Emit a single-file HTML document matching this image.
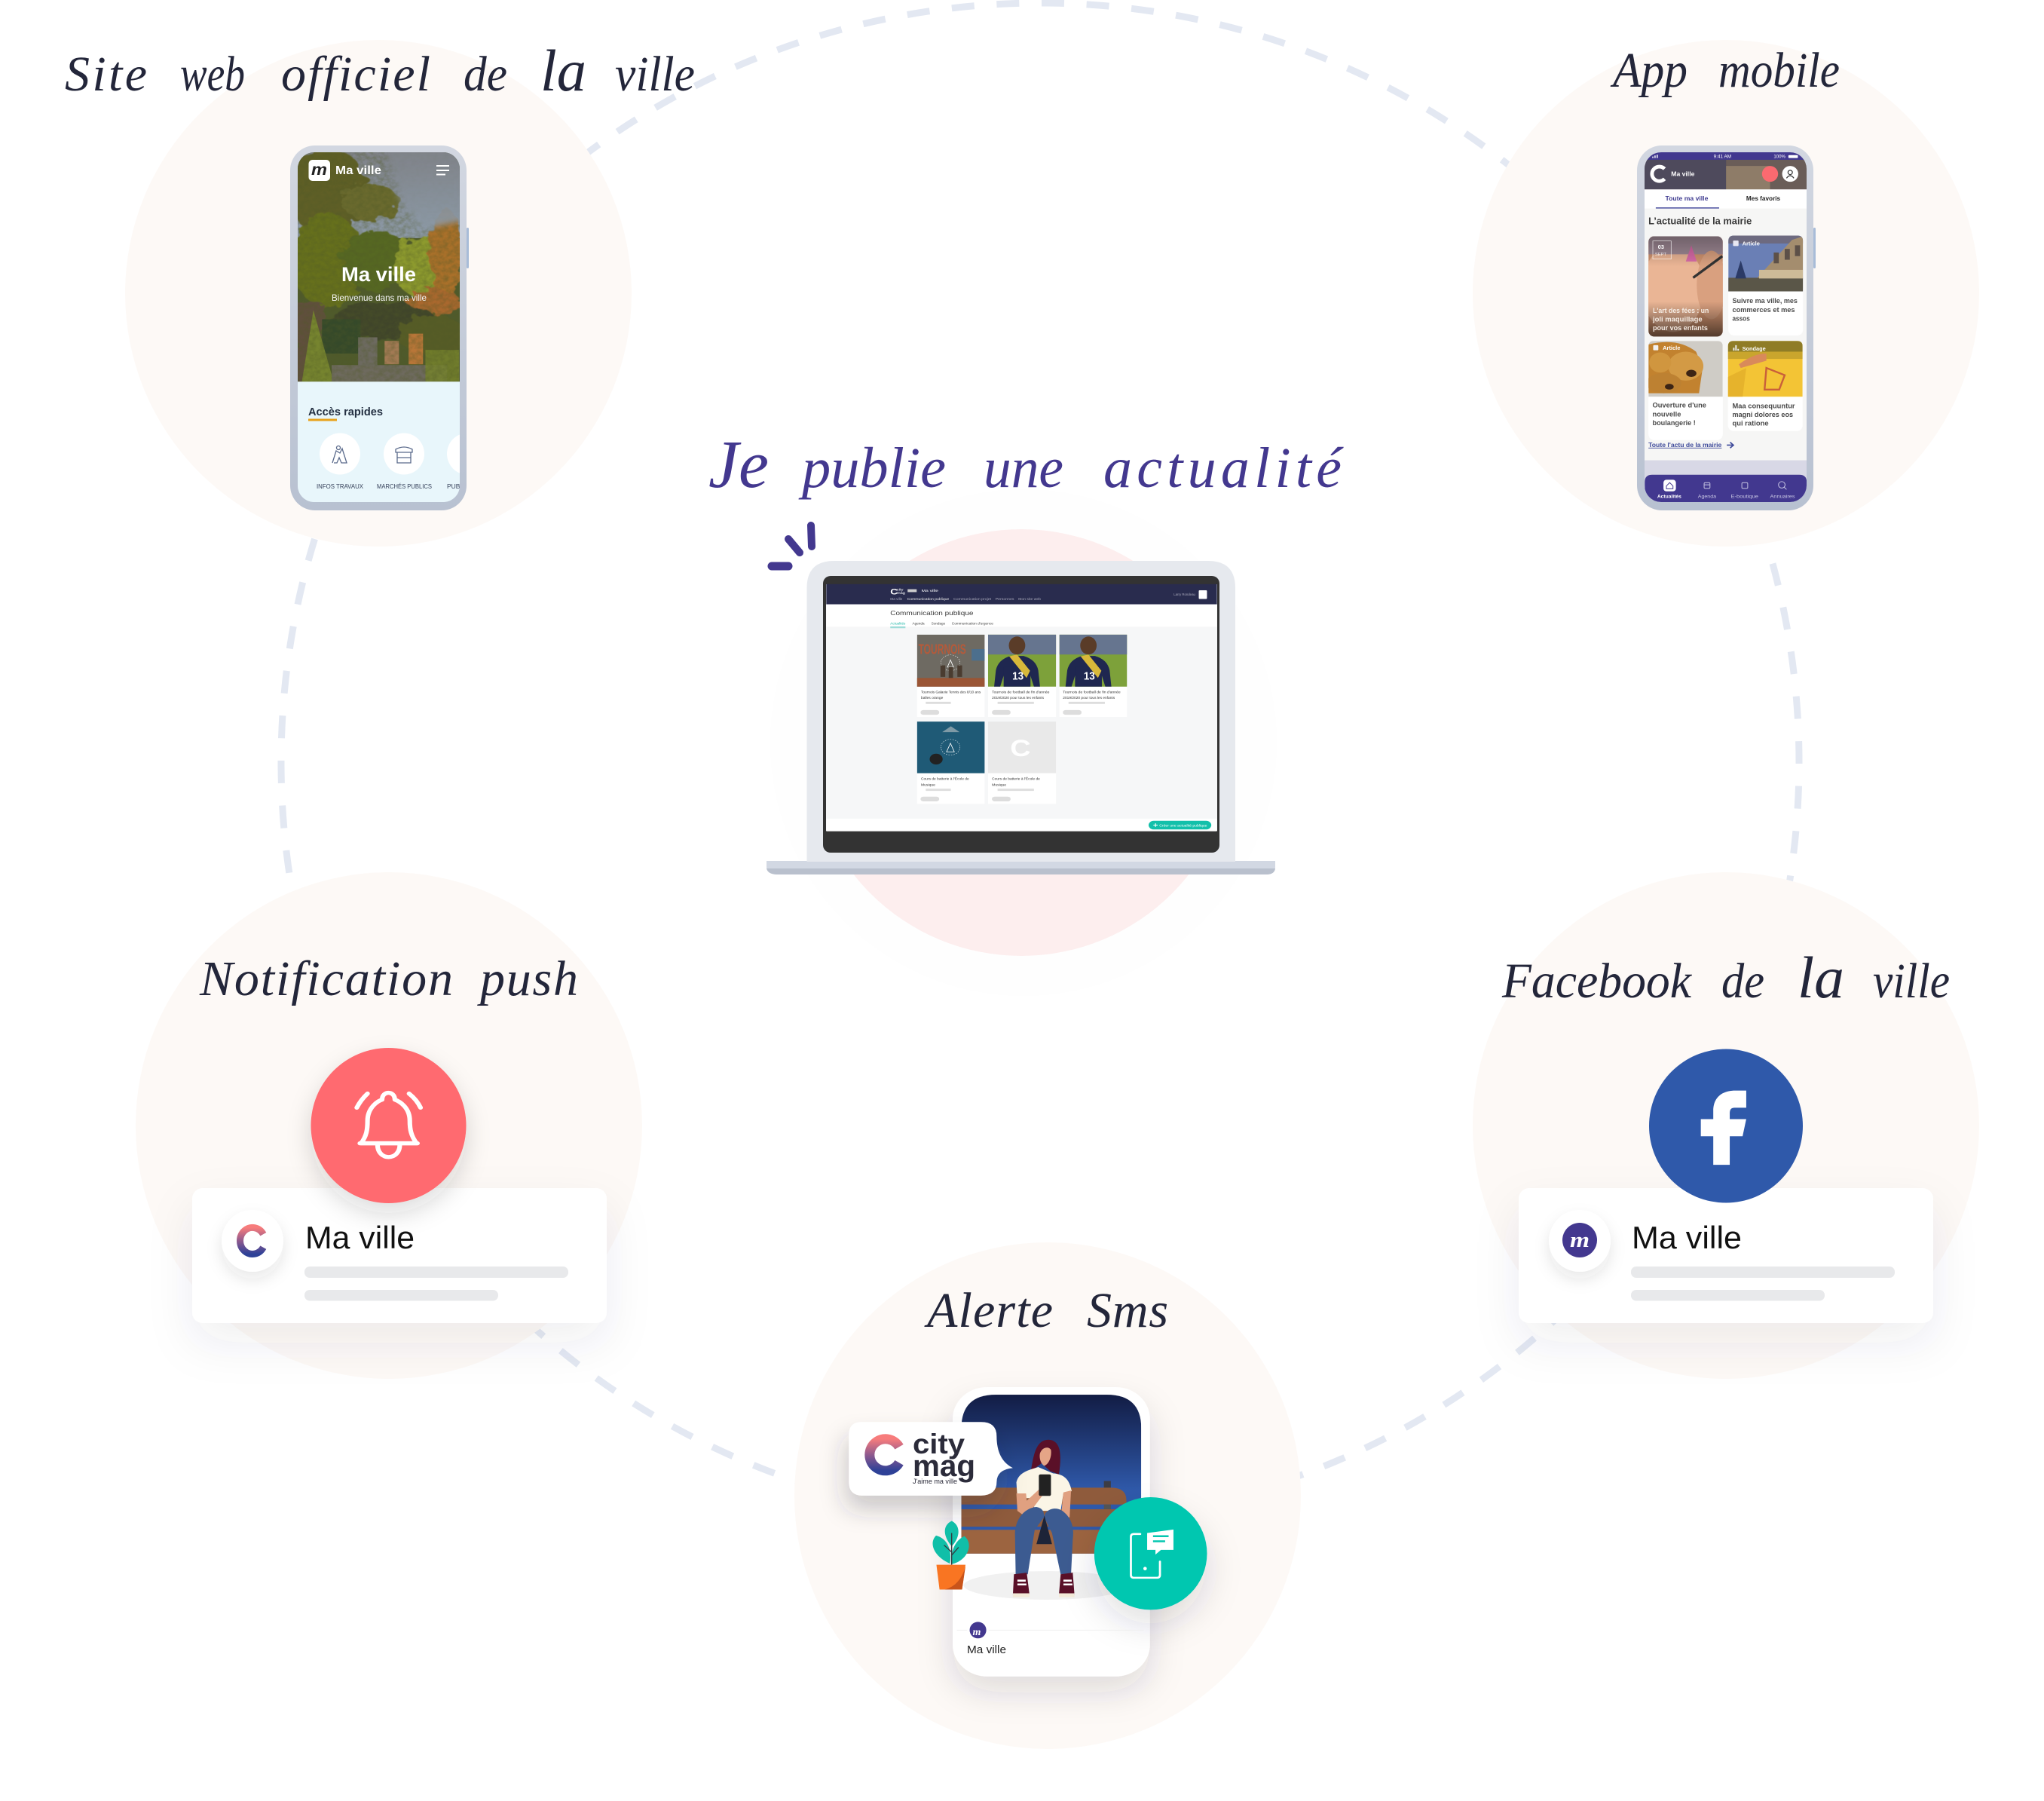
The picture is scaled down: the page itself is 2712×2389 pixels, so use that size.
<!DOCTYPE html>
<html lang="fr"><head><meta charset="utf-8"><title>Je publie une actualité</title>
<style>
html,body{margin:0;padding:0;background:#fff}
svg{display:block}
.h{font-family:"Liberation Serif",serif;font-style:italic;font-size:66px;fill:#23263a}
.p{fill:#43388f;font-size:76px}
.s{font-family:"Liberation Sans",sans-serif}
</style></head><body>
<svg xmlns="http://www.w3.org/2000/svg" width="2712" height="2389" viewBox="0 0 2712 2389">
<defs>
<filter id="sh" x="-30%" y="-40%" width="160%" height="190%"><feDropShadow dx="0" dy="26" stdDeviation="30" flood-color="#303050" flood-opacity=".08"/></filter>
<filter id="sh2" x="-40%" y="-40%" width="180%" height="180%"><feDropShadow dx="0" dy="14" stdDeviation="16" flood-color="#202030" flood-opacity=".16"/></filter>
<filter id="sh3" x="-40%" y="-40%" width="180%" height="190%"><feDropShadow dx="0" dy="10" stdDeviation="10" flood-color="#303040" flood-opacity=".11"/></filter>
<filter id="sh4" x="-40%" y="-40%" width="180%" height="190%"><feDropShadow dx="0" dy="50" stdDeviation="50" flood-color="#303040" flood-opacity=".14"/></filter>
<filter id="sh5" x="-40%" y="-40%" width="180%" height="220%"><feDropShadow dx="-10" dy="45" stdDeviation="36" flood-color="#303040" flood-opacity=".24"/></filter>
<filter id="leaf" x="-10%" y="-10%" width="120%" height="120%"><feTurbulence type="fractalNoise" baseFrequency=".035" numOctaves="3" seed="4"/><feDisplacementMap in="SourceGraphic" scale="38"/><feGaussianBlur stdDeviation="1"/></filter>
<filter id="noise" x="0" y="0" width="100%" height="100%"><feTurbulence type="fractalNoise" baseFrequency=".09" numOctaves="3" seed="9"/><feColorMatrix values="0 0 0 0 .08 0 0 0 0 .1 0 0 0 0 .02 1.8 0 0 0 -.55"/></filter>
<filter id="soft"><feGaussianBlur stdDeviation="8"/></filter>
<linearGradient id="cg" gradientUnits="objectBoundingBox" x1="0" y1="0" x2="0" y2="1"><stop offset="0" stop-color="#f77c7c"/><stop offset=".5" stop-color="#8f5a8e"/><stop offset="1" stop-color="#2e4197"/></linearGradient>
<linearGradient id="sky" x1="0" y1="0" x2="0" y2="1"><stop offset="0" stop-color="#121c44"/><stop offset=".6" stop-color="#2f59aa"/><stop offset="1" stop-color="#2f59aa"/></linearGradient>
<linearGradient id="fr" x1="0" y1="0" x2="0" y2="1"><stop offset="0" stop-color="#d2d7e1"/><stop offset="1" stop-color="#b8c1d1"/></linearGradient>
<linearGradient id="sk1" x1="0" y1="0" x2="0" y2="1"><stop offset="0" stop-color="#7f8288"/><stop offset="1" stop-color="#8c99a6"/></linearGradient>
<linearGradient id="dk" x1="0" y1="0" x2="0" y2="1"><stop offset="0" stop-color="#000" stop-opacity=".3"/><stop offset=".3" stop-color="#000" stop-opacity="0"/><stop offset=".65" stop-color="#000" stop-opacity="0"/><stop offset="1" stop-color="#000" stop-opacity=".6"/></linearGradient>
<clipPath id="s1"><rect x="395" y="202" width="215" height="464" rx="22"/></clipPath>
<clipPath id="s2"><rect x="2182" y="202" width="215" height="464" rx="22"/></clipPath>
<clipPath id="imA"><rect x="488" y="655" width="203" height="278" rx="16"/></clipPath>
<clipPath id="imB"><path d="M706 808V669q0-16 16-16h172q16 0 16 16v139z"/></clipPath>
<clipPath id="imC"><path d="M488 1100V961q0-16 16-16h171q16 0 16 16v139z"/></clipPath>
<clipPath id="imD"><path d="M705 1100V961q0-16 16-16h172q16 0 16 16v139z"/></clipPath>
<clipPath id="smsimg"><path d="M513 905V510q0-106 100-106h320q100 0 100 106v395z"/></clipPath>
</defs>
<rect width="2712" height="2389" fill="#fff"/>

<!-- faint centre disc and dashed ring -->
<circle cx="1358" cy="985" r="336" fill="#fefefe"/>
<circle cx="1380" cy="1011" r="1007" fill="none" stroke="#e3e8f2" stroke-width="9" stroke-dasharray="30 29.69" stroke-dashoffset="28"/>

<!-- background discs -->
<circle cx="502" cy="389" r="336" fill="#fdf9f6"/>
<circle cx="2290" cy="389" r="336" fill="#fdf9f6"/>
<circle cx="516" cy="1493" r="336" fill="#fdf9f6"/>
<circle cx="2290" cy="1493" r="336" fill="#fdf9f6"/>
<circle cx="1390" cy="1984" r="336" fill="#fdf9f6"/>
<circle cx="1355" cy="985" r="283" fill="#fdeeee"/>

<!-- titles -->
<text class="h" x="86" y="120" textLength="109" lengthAdjust="spacing">Site</text>
<text class="h" x="239" y="120" textLength="86" lengthAdjust="spacingAndGlyphs">web</text>
<text class="h" x="373" y="120" textLength="198" lengthAdjust="spacing">officiel</text>
<text class="h" x="615" y="120" textLength="58" lengthAdjust="spacingAndGlyphs">de</text>
<text class="h" x="717" y="120" font-size="78" style="font-size:78px" textLength="61" lengthAdjust="spacingAndGlyphs">la</text>
<text class="h" x="816" y="120" textLength="106" lengthAdjust="spacingAndGlyphs">ville</text>
<text class="h" x="2140" y="115" textLength="99" lengthAdjust="spacingAndGlyphs">App</text>
<text class="h" x="2280" y="115" textLength="161" lengthAdjust="spacingAndGlyphs">mobile</text>
<text class="h p" x="940" y="646" style="font-size:90px" textLength="80" lengthAdjust="spacingAndGlyphs">Je</text>
<text class="h p" x="1064" y="646" textLength="191" lengthAdjust="spacingAndGlyphs">publie</text>
<text class="h p" x="1305" y="646" textLength="106" lengthAdjust="spacingAndGlyphs">une</text>
<text class="h p" x="1464" y="646" textLength="316" lengthAdjust="spacing">actualité</text>
<text class="h" x="265" y="1320" textLength="336" lengthAdjust="spacing">Notification</text>
<text class="h" x="637" y="1320" textLength="130" lengthAdjust="spacing">push</text>
<text class="h" x="1993" y="1323" textLength="251" lengthAdjust="spacingAndGlyphs">Facebook</text>
<text class="h" x="2284" y="1323" textLength="57" lengthAdjust="spacingAndGlyphs">de</text>
<text class="h" x="2385" y="1323" style="font-size:78px" textLength="62" lengthAdjust="spacingAndGlyphs">la</text>
<text class="h" x="2485" y="1323" textLength="102" lengthAdjust="spacingAndGlyphs">ville</text>
<text class="h" x="1230" y="1760" textLength="167" lengthAdjust="spacing">Alerte</text>
<text class="h" x="1442" y="1760" textLength="108" lengthAdjust="spacing">Sms</text>

<!-- LEFT PHONE -->
<rect x="619" y="302" width="3" height="54" rx="1.5" fill="#a8bcd8"/>
<rect x="385" y="193" width="234" height="484" rx="33" fill="url(#fr)"/>
<rect x="395" y="202" width="215" height="464" rx="22" fill="#e8f6fb"/>
<g clip-path="url(#s1)">
<g transform="scale(.6378 .4785)">
<rect x="610" y="420" width="360" height="640" fill="#4f5a2c"/>
<rect x="610" y="420" width="360" height="240" fill="url(#sk1)"/>
<g filter="url(#leaf)">
<ellipse cx="680" cy="530" rx="85" ry="120" fill="#5f5f26"/>
<ellipse cx="770" cy="560" rx="60" ry="50" fill="#6a6a2e"/>
<ellipse cx="680" cy="720" rx="75" ry="130" fill="#66701f"/>
<ellipse cx="780" cy="720" rx="70" ry="85" fill="#566720"/>
<ellipse cx="880" cy="740" rx="62" ry="85" fill="#8d9a2e"/>
<ellipse cx="930" cy="700" rx="36" ry="120" fill="#a96f2b"/>
<ellipse cx="905" cy="840" rx="55" ry="40" fill="#a9682f"/>
<ellipse cx="800" cy="890" rx="110" ry="50" fill="#3f442a"/>
<ellipse cx="900" cy="930" rx="70" ry="55" fill="#565b26"/>
<rect x="610" y="840" width="60" height="220" fill="#60503c"/>
</g>
<rect x="670" y="885" width="80" height="95" fill="#35492a"/>
<path d="M652 860L628 1058H694Z" fill="#76842f"/>
<rect x="800" y="945" width="30" height="65" fill="#a27a54"/>
<rect x="850" y="925" width="30" height="85" fill="#b87638"/>
<rect x="690" y="1012" width="240" height="46" fill="#6e6a5e"/>
<rect x="745" y="935" width="40" height="80" fill="#6d6a60"/>
<rect x="885" y="970" width="70" height="88" fill="#76822d" opacity=".85"/>
<rect x="610" y="420" width="360" height="640" filter="url(#noise)" opacity=".4"/>
<path d="M800 410H970V610L880 635L835 560Z" fill="url(#sk1)" opacity=".9" filter="url(#soft)"/>
<rect x="610" y="1058" width="360" height="340" fill="#e8f6fb"/>
</g>
<rect x="409.5" y="212" width="28.5" height="28" rx="5" fill="#fff"/>
<text x="413" y="232" class="s" font-family="Liberation Serif" font-style="italic" font-weight="700" font-size="21" textLength="21" lengthAdjust="spacingAndGlyphs" fill="#222">m</text>
<text x="445" y="231" class="s" font-size="16" font-weight="700" fill="#fff" textLength="61" lengthAdjust="spacingAndGlyphs">Ma ville</text>
<path d="M579 220h17M579 226h17M579 231.500h12" stroke="#fff" stroke-width="2"/>
<text x="453" y="373" class="s" font-size="27" font-weight="700" fill="#fff" textLength="99" lengthAdjust="spacingAndGlyphs">Ma ville</text>
<text x="440" y="399" class="s" font-size="12" fill="#f4f4f4" textLength="126" lengthAdjust="spacingAndGlyphs">Bienvenue dans ma ville</text>
<text x="409" y="551" class="s" font-size="15" font-weight="700" fill="#243042" textLength="99" lengthAdjust="spacingAndGlyphs">Accès rapides</text>
<rect x="409" y="555.500" width="38" height="3" fill="#e8a21c"/>
<ellipse cx="451" cy="602" rx="27" ry="27.500" fill="#fff"/>
<ellipse cx="536" cy="602" rx="27" ry="27.500" fill="#fff"/>
<ellipse cx="620" cy="602" rx="27" ry="27.500" fill="#fff"/>
<g fill="none" stroke="#5b6b8c" stroke-width="1.300">
<path d="M441 614l5-16 5 3 3-6 6 19h-7l-3-7-3 7h-4"/><circle cx="449" cy="594" r="2.500"/>
<path d="M525 596q11-6 22 0v4h-22zM527 600v14h18v-14M527 607h18"/>
</g>
<text x="420" y="648" class="s" font-size="8.500" fill="#35405a" textLength="62" lengthAdjust="spacingAndGlyphs">INFOS TRAVAUX</text>
<text x="500" y="648" class="s" font-size="8.500" fill="#35405a" textLength="73" lengthAdjust="spacingAndGlyphs">MARCHÉS PUBLICS</text>
<text x="593" y="648" class="s" font-size="8.500" fill="#35405a">PUBLICATIONS</text>
</g>

<!-- APP PHONE -->
<rect x="2406" y="302" width="3" height="54" rx="1.5" fill="#a8bcd8"/>
<rect x="2172" y="193" width="234" height="484" rx="33" fill="url(#fr)"/>
<g clip-path="url(#s2)">
<g transform="translate(1950 0) scale(.486 .4785)" class="s">
<rect x="470" y="415" width="460" height="990" fill="#f6f6f5"/>
<rect x="470" y="415" width="460" height="30" fill="#42388f"/>
<rect x="470" y="443" width="460" height="84" fill="#6a5d58"/>
<rect x="470" y="443" width="230" height="84" fill="#4e4a5c"/>
<rect x="700" y="460" width="120" height="66" fill="#8e7c68"/>
<text x="666" y="438" font-size="13" fill="#fff" textLength="48" lengthAdjust="spacingAndGlyphs">9:41 AM</text>
<text x="830" y="438" font-size="13" fill="#fff" textLength="32" lengthAdjust="spacingAndGlyphs">100%</text>
<rect x="870" y="430" width="26" height="8" rx="2" fill="#fff"/>
<path d="M500 438v-4M506 438v-7M512 438v-9" stroke="#fff" stroke-width="3"/>
<path d="M532 468A20 20 0 1 0 532 496" fill="none" stroke="#fff" stroke-width="10"/>
<text x="550" y="488" font-size="17" font-weight="700" fill="#fff" textLength="64" lengthAdjust="spacingAndGlyphs">Ma ville</text>
<circle cx="820" cy="482" r="22" fill="#fa6a70"/>
<circle cx="875" cy="482" r="22" fill="#fff"/>
<circle cx="875" cy="478" r="6" fill="none" stroke="#333" stroke-width="2.500"/><path d="M865 494q10-14 20 0" fill="none" stroke="#333" stroke-width="2.500"/>
<rect x="470" y="525" width="460" height="53" fill="#fff"/>
<text x="534" y="556" font-size="17" font-weight="700" fill="#3e3a90" textLength="117" lengthAdjust="spacingAndGlyphs">Toute ma ville</text>
<text x="755" y="556" font-size="17" font-weight="700" fill="#222" textLength="93" lengthAdjust="spacingAndGlyphs">Mes favoris</text>
<rect x="508" y="575" width="173" height="3" fill="#42469a"/>
<text x="488" y="622" font-size="26" font-weight="700" fill="#3a3a3a" textLength="282" lengthAdjust="spacingAndGlyphs">L’actualité de la mairie</text>

<g clip-path="url(#imA)">
<rect x="488" y="655" width="203" height="278" fill="#d0936f"/>
<ellipse cx="555" cy="800" rx="85" ry="120" fill="#eab595"/>
<rect x="488" y="655" width="203" height="50" fill="#a08a96"/>
<ellipse cx="660" cy="790" rx="40" ry="95" fill="#d9a07f"/>
<path d="M590 725l15-45 15 45z" fill="#d96ba8"/>
<path d="M610 770l80-60" stroke="#333" stroke-width="7"/>
<rect x="488" y="655" width="203" height="278" fill="url(#dk)"/>
</g>
<rect x="500" y="668" width="50" height="50" fill="none" stroke="#fff" stroke-width="1.500" opacity=".8"/>
<text x="514" y="690" font-size="15" font-weight="700" fill="#fff">03</text>
<text x="506" y="708" font-size="12" fill="#fff" opacity=".8">SEPT</text>
<g font-size="19" font-weight="700" fill="#f5ece4">
<text x="500" y="867" textLength="153" lengthAdjust="spacingAndGlyphs">L'art des fées : un</text>
<text x="500" y="891" textLength="135" lengthAdjust="spacingAndGlyphs">joli maquillage</text>
<text x="500" y="915" textLength="150" lengthAdjust="spacingAndGlyphs">pour vos enfants</text>
</g>

<rect x="706" y="653" width="204" height="277" rx="16" fill="#fff"/>
<g clip-path="url(#imB)">
<rect x="706" y="653" width="204" height="155" fill="#6a7fb5"/>
<rect x="706" y="653" width="204" height="22" fill="#6d6a80"/>
<path d="M785 770L880 665L910 655V800H785Z" fill="#a48d6e"/>
<rect x="830" y="700" width="14" height="30" fill="#5d5048"/><rect x="860" y="690" width="14" height="30" fill="#5d5048"/><rect x="888" y="680" width="14" height="30" fill="#5d5048"/>
<rect x="706" y="770" width="204" height="38" fill="#5a5648"/>
<path d="M725 772l15-50 15 50z" fill="#2b3a66"/>
<rect x="790" y="748" width="120" height="24" fill="#cdbb98"/>
</g>
<text x="744" y="680" font-size="15" font-weight="700" fill="#fff" textLength="48" lengthAdjust="spacingAndGlyphs">Article</text>
<rect x="719" y="667" width="15" height="15" rx="2" fill="#e8e8f2"/>
<g font-size="19" font-weight="700" fill="#4a4a4a">
<text x="717" y="840" textLength="178" lengthAdjust="spacingAndGlyphs">Suivre ma ville, mes</text>
<text x="717" y="865" textLength="171" lengthAdjust="spacingAndGlyphs">commerces et mes</text>
<text x="717" y="889" textLength="48" lengthAdjust="spacingAndGlyphs">assos</text>
</g>

<rect x="488" y="945" width="203" height="275" rx="16" fill="#fff"/>
<g clip-path="url(#imC)">
<rect x="488" y="945" width="203" height="155" fill="#cfccc6"/>
<path d="M488 955q80-20 130 20l18 45-10 70H488z" fill="#c2822f"/>
<ellipse cx="590" cy="1015" rx="48" ry="40" fill="#d39a45"/>
<ellipse cx="530" cy="1062" rx="48" ry="28" fill="#bd8132"/>
<ellipse cx="520" cy="1005" rx="30" ry="28" fill="#d0963f"/>
<ellipse cx="605" cy="1035" rx="14" ry="10" fill="#3c2415"/>
<ellipse cx="545" cy="1072" rx="12" ry="8" fill="#3c2415"/>
</g>
<rect x="501" y="957" width="14" height="14" rx="2" fill="#f2f2f2"/>
<text x="527" y="970" font-size="15" font-weight="700" fill="#fff" textLength="48" lengthAdjust="spacingAndGlyphs">Article</text>
<g font-size="19" font-weight="700" fill="#4a4a4a">
<text x="499" y="1130" textLength="147" lengthAdjust="spacingAndGlyphs">Ouverture d'une</text>
<text x="499" y="1155" textLength="78" lengthAdjust="spacingAndGlyphs">nouvelle</text>
<text x="499" y="1179" textLength="118" lengthAdjust="spacingAndGlyphs">boulangerie !</text>
</g>

<rect x="705" y="945" width="204" height="250" rx="16" fill="#fff"/>
<g clip-path="url(#imD)">
<rect x="705" y="945" width="204" height="155" fill="#f3c435"/>
<rect x="705" y="945" width="204" height="30" fill="#8f7c26"/>
<rect x="705" y="975" width="204" height="20" fill="#c9a52d"/>
<path d="M735 1010q40-30 75-30l0 20-70 20z" fill="#d98a5a"/>
<path d="M705 1045l50-25-10 80h-40z" fill="#e6b32c"/>
<path d="M810 1020l50 20-15 40h-40z" fill="none" stroke="#c9603a" stroke-width="5"/>
</g>
<text x="744" y="972" font-size="15" font-weight="700" fill="#fff" textLength="64" lengthAdjust="spacingAndGlyphs">Sondage</text>
<path d="M721 972v-8M727 972v-15M733 972v-5" stroke="#eee" stroke-width="4"/>
<g font-size="19" font-weight="700" fill="#4a4a4a">
<text x="717" y="1132" textLength="171" lengthAdjust="spacingAndGlyphs">Maa consequuntur</text>
<text x="717" y="1156" textLength="166" lengthAdjust="spacingAndGlyphs">magni dolores eos</text>
<text x="717" y="1180" textLength="99" lengthAdjust="spacingAndGlyphs">qui ratione</text>
</g>

<text x="488" y="1239" font-size="18" font-weight="700" fill="#3e4a9a" text-decoration="underline" textLength="200" lengthAdjust="spacingAndGlyphs">Toute l'actu de la mairie</text>
<path d="M702 1234h17M711 1226l9 8-9 8" fill="none" stroke="#3e4a9a" stroke-width="3.500"/>

<rect x="470" y="1276" width="460" height="130" fill="#d8d8e6"/>
<path d="M478 1400v-64q0-20 20-20h402q20 0 20 20v64z" fill="#42388f"/>
<rect x="529" y="1330" width="34" height="32" rx="8" fill="#fff"/>
<path d="M537 1347l9-9 9 9v8h-18z" fill="none" stroke="#42388f" stroke-width="2"/>
<g fill="none" stroke="#c9c7e4" stroke-width="2"><rect x="640" y="1338" width="16" height="16" rx="3"/><path d="M640 1344h16"/><rect x="743" y="1338" width="16" height="16" rx="3"/><circle cx="852" cy="1344" r="9"/><path d="M858 1350l7 7"/></g>
<text x="512" y="1380" font-size="14" font-weight="700" fill="#fff" textLength="66" lengthAdjust="spacingAndGlyphs">Actualités</text>
<text x="623" y="1380" font-size="14" fill="#c9c7e4" textLength="50" lengthAdjust="spacingAndGlyphs">Agenda</text>
<text x="713" y="1380" font-size="14" fill="#c9c7e4" textLength="75" lengthAdjust="spacingAndGlyphs">E-boutique</text>
<text x="820" y="1380" font-size="14" fill="#c9c7e4" textLength="68" lengthAdjust="spacingAndGlyphs">Annuaires</text>
</g>
</g>

<!-- LAPTOP -->
<path d="M1017 1142H1692V1150q0 10-12 10H1032q-15 0-15-10z" fill="#d2d8e3"/>
<path d="M1017 1152H1692q-1 8-12 8H1032q-13 0-15-8z" fill="#b9c0cd"/>
<path d="M1070.500 1143V780q0-36 36-36H1603q36 0 36 36V1143z" fill="#e6e9ee"/>
<rect x="1092" y="764" width="526" height="367" rx="10" fill="#333"/>
<rect x="1096" y="775" width="519" height="327" fill="#f6f7f8"/>
<g transform="translate(900 550) scale(.574 .4785)" class="s">
<rect x="342" y="470" width="903" height="56" fill="#292c4e"/>
<rect x="342" y="526" width="903" height="62" fill="#fff"/>
<rect x="342" y="1120" width="903" height="35" fill="#fff"/>
<text x="490" y="498" font-size="24" font-weight="700" fill="#fff">C</text>
<text x="505" y="488" font-size="10" fill="#fff">city</text><text x="505" y="497" font-size="10" fill="#fff">mag</text>
<rect x="530" y="484" width="21" height="8" fill="#ccc"/>
<text x="562" y="491" font-size="9" fill="#fff" textLength="39" lengthAdjust="spacingAndGlyphs">Ma ville</text>
<g font-size="9" fill="#aab" >
<text x="490" y="514" textLength="28" lengthAdjust="spacingAndGlyphs">Ma ville</text>
<text x="529" y="514" textLength="97" lengthAdjust="spacingAndGlyphs" fill="#eee">Communication publique</text>
<text x="636" y="514" textLength="87" lengthAdjust="spacingAndGlyphs">Communication projet</text>
<text x="733" y="514" textLength="43" lengthAdjust="spacingAndGlyphs">Personnes</text>
<text x="786" y="514" textLength="52" lengthAdjust="spacingAndGlyphs">Mon site web</text>
<text x="1145" y="502" textLength="50" lengthAdjust="spacingAndGlyphs">Larry Rondeau</text>
</g>
<rect x="1203" y="487" width="19" height="24" rx="2" fill="#fff"/>
<text x="490" y="556" font-size="17" fill="#3a3a3a" textLength="192" lengthAdjust="spacingAndGlyphs">Communication publique</text>
<g font-size="9" fill="#444">
<text x="490" y="582" textLength="35" lengthAdjust="spacingAndGlyphs" fill="#20b8a8">Actualités</text>
<text x="541" y="582" textLength="28" lengthAdjust="spacingAndGlyphs">Agenda</text>
<text x="585" y="582" textLength="32" lengthAdjust="spacingAndGlyphs">Sondage</text>
<text x="632" y="582" textLength="96" lengthAdjust="spacingAndGlyphs">Communication d'urgence</text>
</g>
<rect x="490" y="587" width="35" height="5" fill="#9fdcd8"/>

<!-- cards -->
<rect x="552" y="610" width="156" height="228" fill="#fff"/>
<rect x="716" y="610" width="157" height="228" fill="#fff"/>
<rect x="881" y="610" width="156" height="228" fill="#fff"/>
<rect x="552" y="851" width="156" height="228" fill="#fff"/>
<rect x="716" y="851" width="157" height="228" fill="#fff"/>

<rect x="552" y="610" width="156" height="144" fill="#6e6a62"/>
<rect x="552" y="730" width="156" height="24" fill="#9a5535"/>
<text x="555" y="664" font-size="38" font-weight="700" fill="#b55a3a" textLength="110" lengthAdjust="spacingAndGlyphs">TOURNOIS</text>
<rect x="678" y="650" width="30" height="32" fill="#4c6f8d"/>
<circle cx="629" cy="688" r="22" fill="none" stroke="#fff" stroke-dasharray="3 3"/>
<path d="M622 700l7-20 7 20z" fill="none" stroke="#fff" stroke-width="1.500"/>
<g fill="#4a3c30"><rect x="606" y="695" width="11" height="32"/><rect x="625" y="700" width="10" height="30"/><rect x="645" y="695" width="11" height="32"/></g>

<rect x="716" y="610" width="157" height="144" fill="#7da13a"/>
<rect x="716" y="610" width="157" height="55" fill="#66758f"/>
<rect x="881" y="610" width="156" height="144" fill="#7da13a"/>
<rect x="881" y="610" width="156" height="55" fill="#66758f"/>
<g><path d="M730 754l4-45q5-30 34-40h30q29 10 34 40l4 45h-14l-8-30h-62l-8 30z" fill="#1f2750"/><rect x="752" y="700" width="62" height="54" fill="#1f2750"/><ellipse cx="783" cy="640" rx="19" ry="25" fill="#5a3c28"/><path d="M765 670l40 60 8-20-30-45z" fill="#d8b83a"/><text x="772" y="735" font-size="30" font-weight="700" fill="#fff" textLength="26" lengthAdjust="spacingAndGlyphs">13</text></g>
<g><path d="M895 754l4-45q5-30 34-40h30q29 10 34 40l4 45h-14l-8-30h-62l-8 30z" fill="#1f2750"/><rect x="917" y="700" width="62" height="54" fill="#1f2750"/><ellipse cx="948" cy="640" rx="19" ry="25" fill="#5a3c28"/><path d="M930 670l40 60 8-20-30-45z" fill="#d8b83a"/><text x="937" y="735" font-size="30" font-weight="700" fill="#fff" textLength="26" lengthAdjust="spacingAndGlyphs">13</text></g>

<rect x="552" y="851" width="156" height="143" fill="#1f5a76"/>
<path d="M610 880l20-16 20 16z" fill="#7f9aa6"/>
<circle cx="629" cy="922" r="22" fill="none" stroke="#fff" stroke-dasharray="3 3"/>
<path d="M620 935l9-24 9 24z" fill="none" stroke="#fff" stroke-width="1.500"/>
<circle cx="596" cy="955" r="15" fill="#222"/>
<rect x="716" y="851" width="157" height="143" fill="#e9e9e9"/>
<text x="767" y="947" font-size="66" font-weight="700" fill="#fff">C</text>

<g font-size="9" fill="#333">
<text x="561" y="772" textLength="138" lengthAdjust="spacingAndGlyphs">Tournois Galaxie Tennis des 8/10 ans</text>
<text x="561" y="788" textLength="51" lengthAdjust="spacingAndGlyphs">balles orange</text>
<text x="725" y="772" textLength="133" lengthAdjust="spacingAndGlyphs">Tournois de football de fin d'année</text>
<text x="725" y="788" textLength="120" lengthAdjust="spacingAndGlyphs">2019/2020 pour tous les enfants</text>
<text x="889" y="772" textLength="133" lengthAdjust="spacingAndGlyphs">Tournois de football de fin d'année</text>
<text x="889" y="788" textLength="120" lengthAdjust="spacingAndGlyphs">2019/2020 pour tous les enfants</text>
<text x="561" y="1013" textLength="111" lengthAdjust="spacingAndGlyphs">Cours de batterie à l'École de</text>
<text x="561" y="1029" textLength="33" lengthAdjust="spacingAndGlyphs">Musique</text>
<text x="725" y="1013" textLength="111" lengthAdjust="spacingAndGlyphs">Cours de batterie à l'École de</text>
<text x="725" y="1029" textLength="33" lengthAdjust="spacingAndGlyphs">Musique</text>
</g>
<g fill="#ddd">
<rect x="572" y="796" width="58" height="6"/><rect x="738" y="796" width="84" height="6"/><rect x="902" y="796" width="84" height="6"/>
<rect x="572" y="1037" width="58" height="6"/><rect x="738" y="1037" width="84" height="6"/>
<rect x="560" y="819" width="43" height="13" rx="6"/><rect x="725" y="819" width="43" height="13" rx="6"/><rect x="889" y="819" width="43" height="13" rx="6"/>
<rect x="560" y="1059" width="43" height="13" rx="6"/><rect x="725" y="1059" width="43" height="13" rx="6"/>
</g>
<rect x="1087" y="1126" width="145" height="24" rx="12" fill="#12c0aa"/>
<path d="M1098 1138h10M1103 1133v10" stroke="#fff" stroke-width="2"/>
<text x="1112" y="1142" font-size="10" fill="#fff" textLength="110" lengthAdjust="spacingAndGlyphs">Créer une actualité publique</text>
</g>
<g fill="none" stroke="#43388f" stroke-width="10" stroke-linecap="round">
<path d="M1024 751q12 0 22 0" stroke-width="11"/><path d="M1046 715l15 18"/><path d="M1076 697l1 28"/>
</g>

<!-- NOTIFICATION -->
<rect x="255" y="1576" width="550" height="179" rx="14" fill="#fff" filter="url(#sh)"/>
<circle cx="515.500" cy="1493" r="103" fill="#ff6b70" filter="url(#sh2)"/>
<g transform="translate(150 1150) scale(.51 .446)" fill="none" stroke="#fff" stroke-width="12" stroke-linecap="round" stroke-linejoin="round">
<path d="M645 822C660 800 662 780 662 755C662 715 690 695 700 692C700 665 733 665 733 692C745 697 772 715 772 755C772 780 775 800 790 822Z"/>
<path d="M642 822H792"/>
<path d="M688 826C688 875 746 875 746 826"/>
<path d="M634 716Q645 692 662 674M800 716Q790 692 770 674"/>
</g>
<circle cx="335" cy="1646" r="41" fill="#fff" filter="url(#sh3)"/>
<path d="M349.300 1637.200A16.500 17.500 0 1 0 349.300 1654.700" fill="none" stroke="url(#cg)" stroke-width="9"/>
<text x="405" y="1656" class="s" font-size="42" fill="#111" textLength="145" lengthAdjust="spacingAndGlyphs">Ma ville</text>
<rect x="404" y="1680" width="350" height="15" rx="7" fill="#e8e9eb"/>
<rect x="404" y="1711" width="257" height="14.500" rx="7" fill="#e8e9eb"/>

<!-- FACEBOOK -->
<rect x="2015" y="1576" width="550" height="179" rx="14" fill="#fff" filter="url(#sh)"/>
<circle cx="2290" cy="1493.500" r="102" fill="#2f59aa"/>
<path transform="translate(1950 1150) scale(.486 .446)" d="M755 665V716H725C712 716 710 722 710 735V750H755L745 801H710V886H665V801H631V750H665V725C665 685 690 665 725 665Z" fill="#fff"/>
<circle cx="2096" cy="1646" r="41" fill="#fff" filter="url(#sh3)"/>
<circle cx="2096" cy="1645" r="23" fill="#43388f"/>
<text x="2083" y="1654" font-family="Liberation Serif" font-style="italic" font-weight="700" font-size="28" fill="#fff" textLength="26" lengthAdjust="spacingAndGlyphs">m</text>
<text x="2165" y="1656" class="s" font-size="42" fill="#111" textLength="146" lengthAdjust="spacingAndGlyphs">Ma ville</text>
<rect x="2164" y="1680" width="350" height="15" rx="7" fill="#e8e9eb"/>
<rect x="2164" y="1711" width="257" height="14.500" rx="7" fill="#e8e9eb"/>

<!-- SMS -->
<g transform="translate(1040 1680) scale(.4591 .4209)">
<rect x="488" y="380" width="570" height="912" rx="100" fill="#fff" filter="url(#sh4)"/>
<g clip-path="url(#smsimg)">
<rect x="513" y="404" width="520" height="501" fill="url(#sky)"/>
<rect x="925" y="676" width="20" height="24" fill="#3c3c44"/>
<path d="M513 697H950q40 2 40 40V905H513z" fill="#8f5b3c"/>
<rect x="513" y="750" width="480" height="15" fill="#2f59aa"/>
<rect x="513" y="820" width="480" height="10" fill="#2f59aa"/>
<rect x="513" y="830" width="480" height="75" fill="#9c6440"/>
<rect x="925" y="750" width="20" height="15" fill="#555"/>
</g>
<ellipse cx="760" cy="1005" rx="240" ry="45" fill="#f1f1f1"/>
<path d="M714 645C722 590 730 546 765 546C800 548 804 590 795 655L770 645L745 620Z" fill="#5a1028"/>
<path d="M740 590C745 570 765 565 772 578C775 600 765 625 752 628C742 620 738 605 740 590Z" fill="#e5a587"/>
<path d="M672 680C680 645 715 640 735 632L778 652C810 655 825 670 832 708L808 715L800 770H725L720 730H675Z" fill="#fbf5e6"/>
<path d="M672 715L675 770L700 790L752 715L740 700L702 738L700 715ZM808 712L830 706L826 790L800 800Z" fill="#e0a080"/>
<rect x="737" y="655" width="35" height="68" rx="5" fill="#222"/>
<path d="M668 840C670 790 700 760 730 758C750 762 752 775 752 790C755 765 785 755 805 770C830 790 840 820 835 860L830 970H800L775 840L752 790L725 830L705 970H670Z" fill="#3c5b91"/>
<path d="M730 875h45l-22-90z" fill="#1d2438"/>
<path d="M662 1035L665 970L702 965L710 1035ZM795 1035L800 970L835 965L840 1035Z" fill="#5a1028"/>
<path d="M662 1030h48v12h-48zM795 1030h45v12h-45z" fill="#f3ead8"/>
<path d="M675 990h24M675 1002h26M808 990h24M808 1002h26" stroke="#fff" stroke-width="6"/>

<path d="M225 490H570Q615 490 615 535Q615 610 662 635Q615 640 615 680Q615 720 570 722H225Q188 720 188 680V530Q188 490 225 490Z" fill="#fff" filter="url(#sh5)"/>
<path d="M485 802c-26 14-26 46 0 80c26-30 26-66 0-80zM440 848c-22 24-6 66 40 88c6-42-6-78-40-88zM522 850c-28 12-42 52-37 88c44-10 66-62 37-88z" fill="#10bfa8"/>
<path d="M485 940V840M485 900l-22-22M485 910l20-25" stroke="#333a40" stroke-width="3" fill="none"/>
<path d="M441 940H525L515 1018H450Z" fill="#f97522"/>
<path d="M465 1018Q510 1005 525 945L515 1018Z" fill="#c9541a"/>
<ellipse cx="1060" cy="904.500" rx="163" ry="177.500" fill="#05c7b0" filter="url(#sh4)"/>
<path d="M1030 843H1012Q1003 843 1003 852V972Q1003 981 1012 981H1078Q1087 981 1087 972V930" fill="none" stroke="#fff" stroke-width="6" stroke-linecap="round"/>
<path d="M1050 840L1126 829V893H1090L1074 908V893H1050Z" fill="#fff"/>
<path d="M1067 850h45M1067 866h35" stroke="#05c7b0" stroke-width="6"/>
<ellipse cx="1044" cy="952" rx="5" ry="5.500" fill="#fff"/>
<path d="M500 1146H1040" stroke="#eee" stroke-width="2"/>
<rect x="530" y="1110" width="62" height="70" fill="#fff"/>
<ellipse cx="561" cy="1146" rx="24" ry="26" fill="#43388f"/>
</g>
<text x="1290.500" y="2169" font-family="Liberation Serif" font-style="italic" font-weight="700" font-size="14" fill="#fff">m</text>
<text x="1283" y="2193" class="s" font-size="15" fill="#222" textLength="52" lengthAdjust="spacingAndGlyphs">Ma ville</text>
<path d="M1193 1919.300A21 21 0 1 0 1193 1940.300" fill="none" stroke="url(#cg)" stroke-width="13"/>
<g class="s" fill="#2b2b3a" font-weight="700">
<text x="1211" y="1928" font-size="37" textLength="69" lengthAdjust="spacingAndGlyphs">city</text>
<text x="1211" y="1958" font-size="40" textLength="83" lengthAdjust="spacingAndGlyphs">mag</text>
<text x="1211" y="1968" font-size="9.500" font-weight="400" textLength="59" lengthAdjust="spacingAndGlyphs">J'aime ma ville</text>
</g>
</svg>
</body></html>
